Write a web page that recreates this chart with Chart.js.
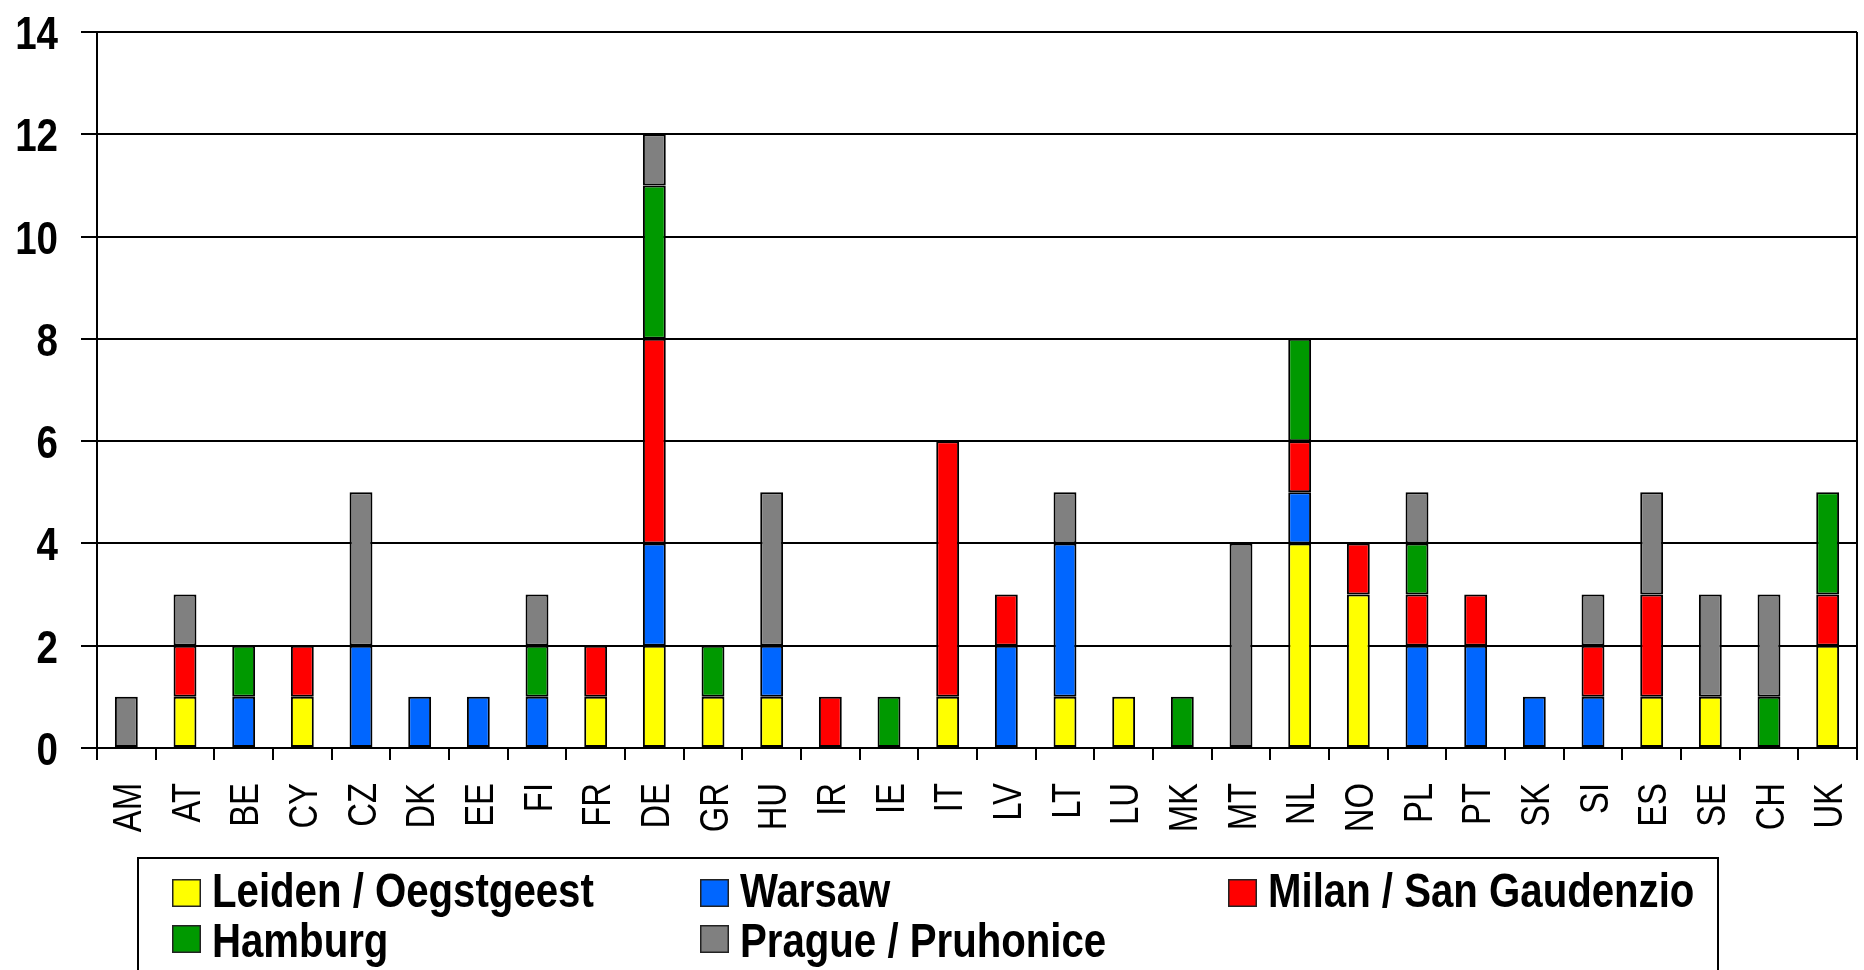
<!DOCTYPE html>
<html>
<head>
<meta charset="utf-8">
<script src="https://cdn.jsdelivr.net/npm/chart.js@4.4.1/dist/chart.umd.min.js"></script>
<style>
  html, body { margin: 0; padding: 0; background: #fff; }
  #wrap { position: relative; width: 1864px; height: 970px; }
</style>
</head>
<body>
<div id="wrap"><canvas id="c" width="1864" height="970"></canvas></div>
<script>
const categories = ["AM","AT","BE","CY","CZ","DK","EE","FI","FR","DE","GR","HU","IR","IE","IT","LV","LT","LU","MK","MT","NL","NO","PL","PT","SK","SI","ES","SE","CH","UK"];
const leiden  = [0,1,0,1,0,0,0,0,1,2,1,1,0,0,1,0,1,1,0,0,4,3,0,0,0,0,1,1,0,2];
const warsaw  = [0,0,1,0,2,1,1,1,0,2,0,1,0,0,0,2,3,0,0,0,1,0,2,2,1,1,0,0,0,0];
const milan   = [0,1,0,1,0,0,0,0,1,4,0,0,1,0,5,1,0,0,0,0,1,1,1,1,0,1,2,0,0,1];
const hamburg = [0,0,1,0,0,0,0,1,0,3,1,0,0,1,0,0,0,0,1,0,2,0,1,0,0,0,0,0,1,2];
const prague  = [1,1,0,0,3,0,0,1,0,1,0,3,0,0,0,0,1,0,0,4,0,0,1,0,0,1,2,2,2,0];
const seriesLabels = ["Leiden / Oegstgeest","Warsaw","Milan / San Gaudenzio","Hamburg","Prague / Pruhonice"];
const seriesColors = ["#FFFF00","#0066FF","#FF0000","#009900","#808080"];
const yTicks = [0,2,4,6,8,10,12,14];

const FONT = '"Liberation Sans", Arial, sans-serif';
const NARROW = 0.82; // horizontal squeeze to mimic Arial Narrow
const seriesData = [leiden, warsaw, milan, hamburg, prague];

const datasets = seriesData.map((arr, i) => ({
  label: seriesLabels[i],
  data: arr.map(v => v === 0 ? null : v),
  backgroundColor: seriesColors[i],
  borderColor: "#000",
  borderWidth: 2,
  borderSkipped: false,
  categoryPercentage: 1.0,
  barPercentage: 0.39
}));

function narrowText(ctx, text, x, y, rot, align) {
  ctx.save();
  ctx.translate(x, y);
  if (rot) ctx.rotate(rot);
  ctx.scale(NARROW, 1);
  ctx.textAlign = align;
  ctx.textBaseline = 'alphabetic';
  ctx.fillText(text, 0, 0);
  ctx.restore();
}

const textPlugin = {
  id: 'textPlugin',
  afterDraw(chart) {
    const ctx = chart.ctx;
    const a = chart.chartArea;
    const xs = chart.scales.x, ys = chart.scales.y;
    ctx.save();
    // right border of plot area
    ctx.strokeStyle = '#000';
    ctx.lineWidth = 2;
    ctx.beginPath();
    ctx.moveTo(a.right, a.top);
    ctx.lineTo(a.right, a.bottom);
    ctx.stroke();

    ctx.fillStyle = '#000';
    // y tick labels
    ctx.font = 'bold 47px ' + FONT;
    ys.ticks.forEach(t => {
      const py = ys.getPixelForValue(t.value);
      narrowText(ctx, String(t.value), 58, py + 17, 0, 'right');
    });
    // x tick labels (rotated, reading bottom to top)
    ctx.font = '40px ' + FONT;
    categories.forEach((lab, i) => {
      const px = xs.getPixelForTick(i);
      narrowText(ctx, lab, px + 14.5, a.bottom + 35, -Math.PI / 2, 'right');
    });

    // legend box
    ctx.lineWidth = 2;
    ctx.strokeStyle = '#000';
    ctx.strokeRect(138, 858, 1580, 200);
    ctx.font = 'bold 49px ' + FONT;
    chart.data.datasets.forEach((ds, i) => {
      const col = i % 3, row = Math.floor(i / 3);
      const sx = 172 + col * 528, sy = 879 + row * 46;
      ctx.fillStyle = ds.backgroundColor;
      ctx.fillRect(sx, sy, 29, 28);
      ctx.lineWidth = 1.5;
      ctx.strokeStyle = '#222';
      ctx.strokeRect(sx + 0.75, sy + 0.75, 27.5, 26.5);
      ctx.fillStyle = '#000';
      narrowText(ctx, ds.label, sx + 40, 907 + row * 50, 0, 'left');
    });
    ctx.restore();
  }
};

new Chart(document.getElementById('c'), {
  type: 'bar',
  data: { labels: categories, datasets },
  options: {
    responsive: false,
    animation: false,
    events: [],
    layout: { padding: { top: 32, right: 7, bottom: 122, left: 0 } },
    plugins: { legend: { display: false }, tooltip: { enabled: false } },
    scales: {
      x: {
        stacked: true,
        offset: true,
        grid: { offset: true, drawOnChartArea: false, drawTicks: true, tickLength: 12, color: '#000', lineWidth: 2 },
        border: { display: true, color: '#000', width: 2 },
        ticks: { display: false, autoSkip: false },
        afterFit(scale) { scale.height = 100; }
      },
      y: {
        stacked: true,
        min: 0, max: 14,
        afterBuildTicks(scale) { scale.ticks = yTicks.map(v => ({ value: v })); },
        grid: { color: '#000', lineWidth: 2, drawTicks: true, tickLength: 16 },
        border: { display: true, color: '#000', width: 2 },
        ticks: { display: false },
        afterFit(scale) { scale.width = 97; }
      }
    }
  },
  plugins: [textPlugin]
});
</script>
</body>
</html>
